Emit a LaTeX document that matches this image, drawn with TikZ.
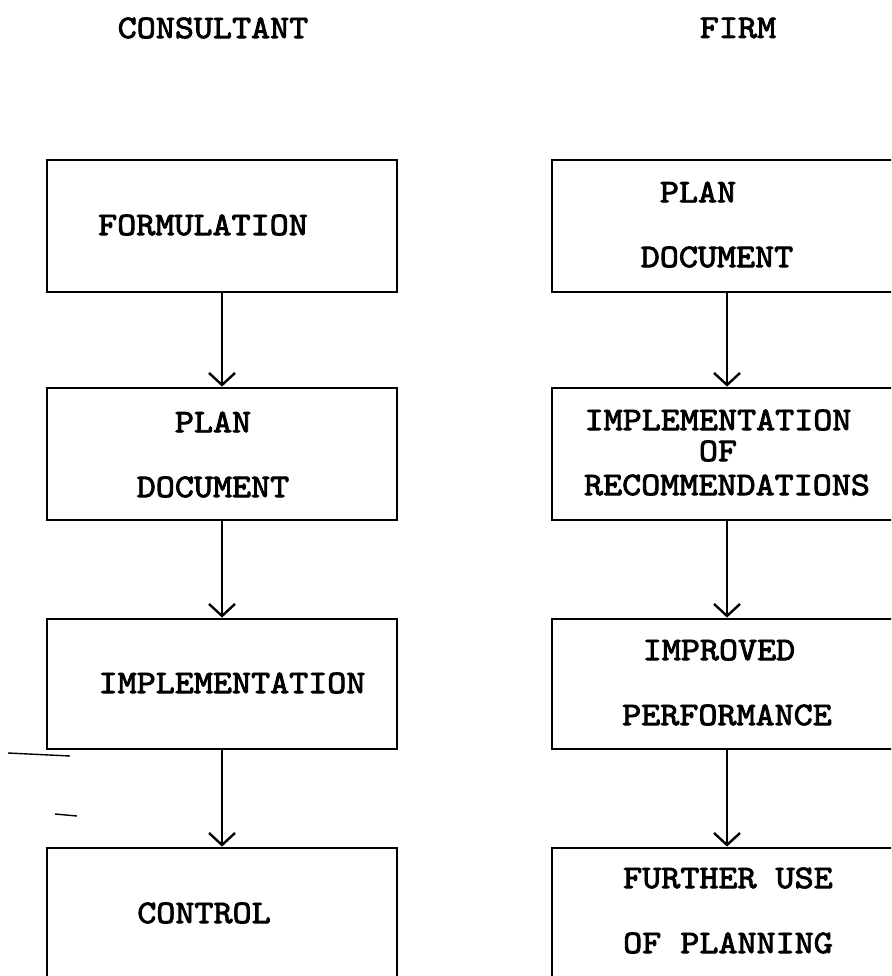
\documentclass[tikz,border=0pt]{standalone}
\usepackage{fontspec}
\newfontfamily\courfont[FakeStretch=1.1, FakeBold=2.6]{lmmono10-regular.otf}
\usetikzlibrary{arrows.meta}
\begin{document}
\begin{tikzpicture}[x=1pt,y=-1pt,
  box/.style={draw=black, line width=2.8pt, rectangle, inner sep=0pt},
  lbl/.style={inner sep=0pt, font=\courfont\fontsize{33}{36}\selectfont},
  flow/.style={line width=1.9pt, -{Straight Barb[length=12pt,width=26pt,line width=2.4pt]}},
  noise/.style={line width=1.4pt}
]
\useasboundingbox (0,0) rectangle (891,976);
\begin{scope}
\clip (0,0) rectangle (891,976);
% headers
\node[lbl] (hc) at (213,28) {CONSULTANT};
\node[lbl] (hf) at (738,28) {FIRM};
% left column boxes
\node[box, minimum width=350pt, minimum height=132pt] (l1) at (222,226) {};
\node[box, minimum width=350pt, minimum height=132pt] (l2) at (222,454) {};
\node[box, minimum width=350pt, minimum height=130pt] (l3) at (222,684) {};
\node[box, minimum width=350pt, minimum height=136pt] (l4) at (222,916) {};
% right column boxes
\node[box, minimum width=350pt, minimum height=132pt] (r1) at (727,226) {};
\node[box, minimum width=350pt, minimum height=132pt] (r2) at (727,454) {};
\node[box, minimum width=350pt, minimum height=130pt] (r3) at (727,684) {};
\node[box, minimum width=350pt, minimum height=136pt] (r4) at (727,916) {};
% left texts
\node[lbl] (t1) at (203,225) {FORMULATION};
\node[lbl] (t2a) at (213,422) {PLAN};
\node[lbl] (t2b) at (213,487) {DOCUMENT};
\node[lbl] (t3) at (232,683) {IMPLEMENTATION};
\node[lbl] (t4) at (204,913) {CONTROL};
% right texts
\node[lbl] (u1a) at (698,192) {PLAN};
\node[lbl] (u1b) at (717,257) {DOCUMENT};
\node[lbl] (u2a) at (718,420) {IMPLEMENTATION};
\node[lbl] (u2b) at (718,451) {OF};
\node[lbl] (u2c) at (727,485) {RECOMMENDATIONS};
\node[lbl] (u3a) at (719,650) {IMPROVED};
\node[lbl] (u3b) at (727,715) {PERFORMANCE};
\node[lbl] (u4a) at (728,878) {FURTHER USE};
\node[lbl] (u4b) at (728,943) {OF PLANNING};
% connectors
\draw[flow] (l1.south) -- (l2.north);
\draw[flow] (l2.south) -- (l3.north);
\draw[flow] (l3.south) -- (l4.north);
\draw[flow] (r1.south) -- (r2.north);
\draw[flow] (r2.south) -- (r3.north);
\draw[flow] (r3.south) -- (r4.north);
% scan marks
\coordinate (n1a) at (8,753);
\coordinate (n1b) at (70,756);
\coordinate (n2a) at (55,814);
\coordinate (n2b) at (77,816);
\draw[noise] (n1a) -- (n1b);
\draw[noise] (n2a) -- (n2b);
\end{scope}
\end{tikzpicture}
\end{document}
